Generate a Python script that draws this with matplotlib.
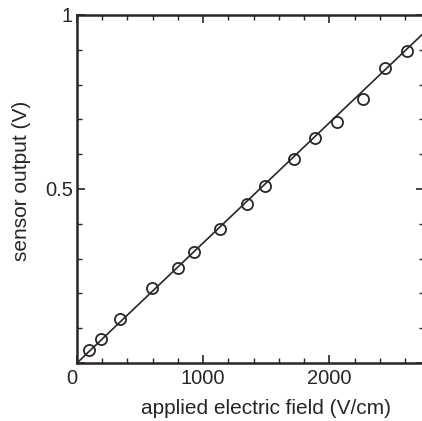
import numpy as np
import matplotlib.pyplot as plt
from matplotlib.ticker import MultipleLocator

# measured points (V/cm, V)
field = [96, 191, 343, 598, 797, 924, 1131, 1347, 1490, 1721, 1888, 2064, 2271, 2438, 2614]
output = [0.037, 0.069, 0.126, 0.216, 0.273, 0.319, 0.385, 0.457, 0.509, 0.586, 0.647, 0.693, 0.759, 0.848, 0.897]
# linear fit through origin
slope = 3.45e-4
fit_x = [0, 2750]

INK = '#2b2523'
plt.rcParams['font.family'] = ['Liberation Sans', 'DejaVu Sans']

fig = plt.figure(figsize=(4.22, 4.21), dpi=100)
ax = fig.add_axes([0.1825, 0.1378, 0.822, 0.8266])

ax.plot(fit_x, [slope * v for v in fit_x], color=INK, lw=1.2, zorder=2)
ax.plot(field, output, 'o', mfc='none', mec=INK, mew=1.3, ms=8, zorder=3)

ax.set_xlim(0, 2750)
ax.set_ylim(0, 1)
ax.xaxis.set_minor_locator(MultipleLocator(200))
ax.yaxis.set_minor_locator(MultipleLocator(0.1))
ax.set_xticks([0, 1000, 2000])
ax.set_xticklabels(['0', '1000', '2000'])
ax.set_yticks([0, 0.5, 1])
ax.set_yticklabels(['', '0.5', '1'])
ax.get_xticklabels()[0].set_horizontalalignment('right')

ax.tick_params(which='both', direction='in', top=True, right=True, colors=INK,
               labelsize=14.5, labelcolor=INK)
ax.tick_params(which='major', length=6, width=1.2)
ax.tick_params(which='minor', length=3.5, width=1.0)
ax.tick_params(axis='x', pad=4)
ax.tick_params(axis='y', pad=3)
for s in ax.spines.values():
    s.set_color(INK)
    s.set_linewidth(1.8)

fig.text(0.6315, 0.029, 'applied electric field (V/cm)', fontsize=15, color=INK,
         ha='center', va='center')
fig.text(0.052, 0.570, 'sensor output (V)', fontsize=15, color=INK,
         ha='center', va='center', rotation=90)

fig.savefig('out.png', dpi=100)
